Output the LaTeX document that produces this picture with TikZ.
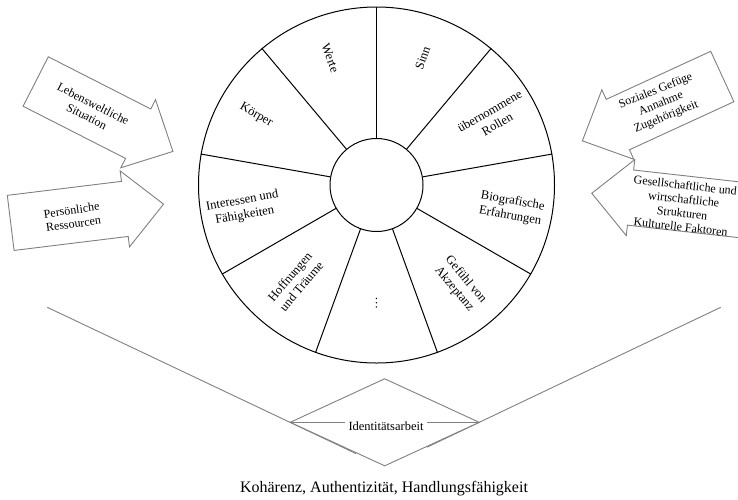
\documentclass[tikz,border=0pt]{standalone}
\usepackage{fontspec}
\setmainfont{Liberation Serif}
\usetikzlibrary{shapes.geometric,calc}
\definecolor{linegrey}{RGB}{128,128,128}
\begin{document}
\begin{tikzpicture}[x=1pt,y=-1pt,
  wheelline/.style={draw=black, line width=1pt},
  greyline/.style={draw=linegrey, line width=0.9pt},
  wheeltext/.style={font=\fontsize{12.6}{15}\selectfont, align=center, inner sep=0pt},
  arrowtext/.style={font=\fontsize{12}{14}\selectfont, align=center, inner sep=0pt},
  blockarrow/.pic={
    \draw[greyline, fill=white] (0,-27.75) -- (115,-27.75) -- (115,-38.25) -- (154,0)
      -- (115,38.25) -- (115,27.75) -- (0,27.75) -- cycle;
  }
]
% canvas
\fill[white] (0,0) rectangle (738,499);
\useasboundingbox (0,0) rectangle (738,499);

% funnel lines leading down to the diamond
\coordinate (funnelL) at (47.3,307.3);
\coordinate (funnelLend) at (356,453.6);
\coordinate (funnelR) at (720.7,307.3);
\coordinate (funnelRend) at (427,447.2);
\draw[greyline] (funnelL) -- (funnelLend);
\draw[greyline] (funnelR) -- (funnelRend);

% identity wheel
\begin{scope}[shift={(376.5,185)}, y=1pt]
  \node[circle, wheelline, minimum size=356, inner sep=0pt] (rim) at (0,0) {};
  \node[circle, wheelline, fill=white, minimum size=93, inner sep=0pt] (hub) at (0,0) {};
  \foreach \a in {10,50,...,330}
    \draw[wheelline] (hub.\a) -- (rim.\a);

  \node[wheeltext, rotate=-70] (werte)    at (110:135) {Werte};
  \node[wheeltext, rotate=70]  (sinn)     at (70:135)  {Sinn};
  \node[wheeltext, rotate=30]  (rollen)   at (30:135)  {übernommene\\Rollen};
  \node[wheeltext, rotate=-10] (bio)      at (350:137) {Biografische\\Erfahrungen};
  \node[wheeltext, rotate=-50] (akzeptanz) at (310:130) {Gefühl von\\Akzeptanz};
  \node[wheeltext, rotate=90]  (weitere)  at (270:118) {\dots};
  \node[wheeltext, rotate=50]  (hoffnung) at (230:126) {Hoffnungen\\und Träume};
  \node[wheeltext, rotate=10]  (interesse) at (190:135) {Interessen und\\Fähigkeiten};
  \node[wheeltext, rotate=-30] (koerper)  at (150:139) {Körper};
\end{scope}

% influence arrows
\pic[rotate=-27]   at (35.7,81.5)   {blockarrow};
\pic[rotate=7]     at (10.7,222.9)  {blockarrow};
\pic[rotate=204.7] at (722.3,76.5)  {blockarrow};
\pic[rotate=173.6] at (744.8,210.4) {blockarrow};

\node[arrowtext, rotate=-27] (lebenswelt) at (90,110) {Lebensweltliche\\Situation};
\node[arrowtext, rotate=8]   (ressourcen) at (72.5,217) {Persönliche\\Ressourcen};
\node[arrowtext, rotate=22]  (sozial) at (661,104) {Soziales Gefüge\\Annahme\\Zugehörigkeit};
\node[arrowtext, rotate=-6.4] (struktur) at (683,206) {Gesellschaftliche und\\wirtschaftliche\\Strukturen\\Kulturelle Faktoren};

% identity work diamond
\node[diamond, greyline, fill=white, minimum width=189.3, minimum height=87.4, inner sep=0pt] (raute) at (384.7,422.3) {};
\draw[greyline] (raute.west) -- (raute.east);
\node[fill=white, font=\fontsize{12.5}{14}\selectfont, inner xsep=4pt, inner ysep=2pt] (ident) at (386,426) {Identitätsarbeit};

% outcome
\node[font=\fontsize{16}{18}\selectfont, anchor=base, inner sep=0pt] (ziel) at (384,492) {Kohärenz, Authentizität, Handlungsfähigkeit};
\end{tikzpicture}
\end{document}
